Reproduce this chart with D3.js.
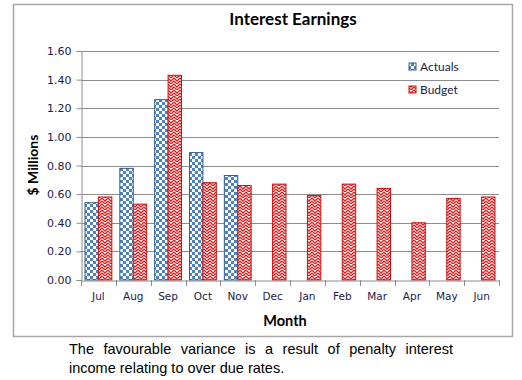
<!DOCTYPE html>
<html>
<head>
<meta charset="utf-8">
<script src="https://cdn.jsdelivr.net/npm/d3@7"></script>
<style>
  body { margin: 0; background: #fff; }
  svg text { font-family: "DejaVu Sans", Tahoma, sans-serif; }
</style>
</head>
<body>
<script>

var months = ["Jul","Aug","Sep","Oct","Nov","Dec","Jan","Feb","Mar","Apr","May","Jun"];
var actuals = [0.54, 0.78, 1.26, 0.89, 0.73, null, null, null, null, null, null, null];
var budget = [0.58, 0.53, 1.43, 0.68, 0.66, 0.67, 0.59, 0.67, 0.64, 0.40, 0.57, 0.58];
var yTicks = [0, 0.2, 0.4, 0.6, 0.8, 1.0, 1.2, 1.4, 1.6];

var width = 522, height = 380;
var plotLeft = 81, plotRight = 499, plotTop = 51, plotBottom = 280;

var svg = d3.select("body").append("svg")
  .attr("width", width)
  .attr("height", height);

var defs = svg.append("defs");

// blue checkerboard for actuals
var chk = defs.append("pattern")
  .attr("id", "chk")
  .attr("patternUnits", "userSpaceOnUse")
  .attr("width", 6).attr("height", 6);
chk.append("rect").attr("width", 6).attr("height", 6).attr("fill", "#fff");
chk.append("rect").attr("width", 3).attr("height", 3).attr("fill", "#4f81bd");
chk.append("rect").attr("x", 3).attr("y", 3).attr("width", 3).attr("height", 3).attr("fill", "#4f81bd");

// red zigzag for budget
var zz = defs.append("pattern")
  .attr("id", "zz")
  .attr("patternUnits", "userSpaceOnUse")
  .attr("width", 6).attr("height", 6);
zz.append("rect").attr("width", 6).attr("height", 6).attr("fill", "#fff");
zz.append("path")
  .attr("d", "M0,0 L3,3 L6,0 M0,3 L3,6 L6,3 M0,6 L3,9 L6,6")
  .attr("fill", "none")
  .attr("stroke", "#d82020")
  .attr("stroke-width", 1.3);

// chart frame
svg.append("rect")
  .attr("x", 13.5).attr("y", 4.5)
  .attr("width", 499).attr("height", 332)
  .attr("fill", "#fff")
  .attr("stroke", "#a6a6a6")
  .attr("stroke-width", 1.5);

var x = d3.scaleBand().domain(months).range([plotLeft, plotRight]);
var y = d3.scaleLinear().domain([0, 1.6]).range([plotBottom, plotTop]);

// gridlines
svg.append("g").selectAll("line")
  .data(yTicks.slice(1))
  .enter().append("line")
  .attr("x1", plotLeft).attr("x2", plotRight)
  .attr("y1", function(d){ return Math.round(y(d)) + 0.5; })
  .attr("y2", function(d){ return Math.round(y(d)) + 0.5; })
  .attr("stroke", "#8c8c8c")
  .attr("stroke-width", 1);

// y axis
var yAxis = svg.append("g")
  .attr("transform", "translate(" + (plotLeft + 0.5) + ",0)")
  .call(d3.axisLeft(y).tickValues(yTicks).tickFormat(d3.format(".2f")).tickSize(5).tickPadding(5));
yAxis.select(".domain").attr("stroke", "#8c8c8c");
yAxis.selectAll(".tick line").attr("stroke", "#8c8c8c");
yAxis.selectAll("text")
  .attr("font-size", "11px")
  .attr("fill", "#1a1a4a");

// bars
var pad = x.bandwidth() * 0.115;
var bw = (x.bandwidth() - 2 * pad) / 2;

svg.append("g").selectAll("rect")
  .data(months.map(function(m, i){ return {m: m, v: actuals[i]}; }).filter(function(d){ return d.v != null; }))
  .enter().append("rect")
  .attr("x", function(d){ return x(d.m) + pad; })
  .attr("y", function(d){ return y(d.v); })
  .attr("width", bw)
  .attr("height", function(d){ return plotBottom - y(d.v); })
  .attr("fill", "url(#chk)")
  .attr("stroke", "#2f5d95")
  .attr("stroke-width", 1);

svg.append("g").selectAll("rect")
  .data(months.map(function(m, i){ return {m: m, v: budget[i]}; }))
  .enter().append("rect")
  .attr("x", function(d){ return x(d.m) + pad + bw; })
  .attr("y", function(d){ return y(d.v); })
  .attr("width", bw)
  .attr("height", function(d){ return plotBottom - y(d.v); })
  .attr("fill", "url(#zz)")
  .attr("stroke", "#d01010")
  .attr("stroke-width", 1);

// x axis
var xAxis = svg.append("g")
  .attr("transform", "translate(0," + (plotBottom + 0.5) + ")")
  .call(d3.axisBottom(x).tickSize(0).tickPadding(12));
xAxis.select(".domain").attr("stroke", "#8c8c8c");
xAxis.selectAll("text")
  .attr("font-size", "10.5px")
  .attr("fill", "#1a1a4a");
svg.append("g").selectAll("line")
  .data(months.concat(["end"]))
  .enter().append("line")
  .attr("x1", function(d, i){ return Math.round(plotLeft + i * x.step()) + 0.5; })
  .attr("x2", function(d, i){ return Math.round(plotLeft + i * x.step()) + 0.5; })
  .attr("y1", plotBottom).attr("y2", plotBottom + 6)
  .attr("stroke", "#8c8c8c");

// title and axis titles
svg.append("text")
  .attr("x", 293).attr("y", 25)
  .attr("text-anchor", "middle")
  .style("font-family", "Lato, 'Open Sans', sans-serif")
  .attr("font-weight", "bold")
  .attr("font-size", "17px")
  .attr("fill", "#000")
  .text("Interest Earnings");

svg.append("text")
  .attr("transform", "translate(38,165) rotate(-90)")
  .attr("text-anchor", "middle")
  .style("font-family", "Lato, 'Open Sans', sans-serif")
  .attr("font-weight", "bold")
  .attr("font-size", "14px")
  .attr("fill", "#000")
  .text("$ Millions");

svg.append("text")
  .attr("x", 285).attr("y", 326)
  .attr("text-anchor", "middle")
  .style("font-family", "Lato, 'Open Sans', sans-serif")
  .attr("font-weight", "bold")
  .attr("font-size", "14.5px")
  .attr("fill", "#000")
  .text("Month");

// legend
var legend = [
  {name: "Actuals", fill: "url(#chk)", stroke: "#2f5d95", y: 67},
  {name: "Budget", fill: "url(#zz)", stroke: "#d01010", y: 90}
];
var lg = svg.append("g").selectAll("g").data(legend).enter().append("g");
lg.append("rect")
  .attr("x", 409).attr("y", function(d){ return d.y - 4; })
  .attr("width", 7).attr("height", 7)
  .attr("fill", function(d){ return d.fill; })
  .attr("stroke", function(d){ return d.stroke; });
lg.append("text")
  .attr("x", 420).attr("y", function(d){ return d.y + 4; })
  .style("font-family", "Lato, 'Open Sans', sans-serif")
  .attr("font-size", "12px")
  .attr("fill", "#1a1a4a")
  .text(function(d){ return d.name; });

// caption under chart, first line justified by widening the spaces
var line1 = "The favourable variance is a result of penalty interest";
var cap1 = svg.append("text")
  .attr("x", 69).attr("y", 354)
  .style("font-family", "'Liberation Sans', Arial, sans-serif")
  .attr("font-size", "14.5px")
  .attr("fill", "#000")
  .text(line1);
var natural = cap1.node().getComputedTextLength();
var gaps = line1.split(" ").length - 1;
cap1.style("word-spacing", ((384 - natural) / gaps) + "px");

svg.append("text")
  .attr("x", 69).attr("y", 373)
  .style("font-family", "'Liberation Sans', Arial, sans-serif")
  .attr("font-size", "14.5px")
  .attr("fill", "#000")
  .text("income relating to over due rates.");

</script>
</body>
</html>
